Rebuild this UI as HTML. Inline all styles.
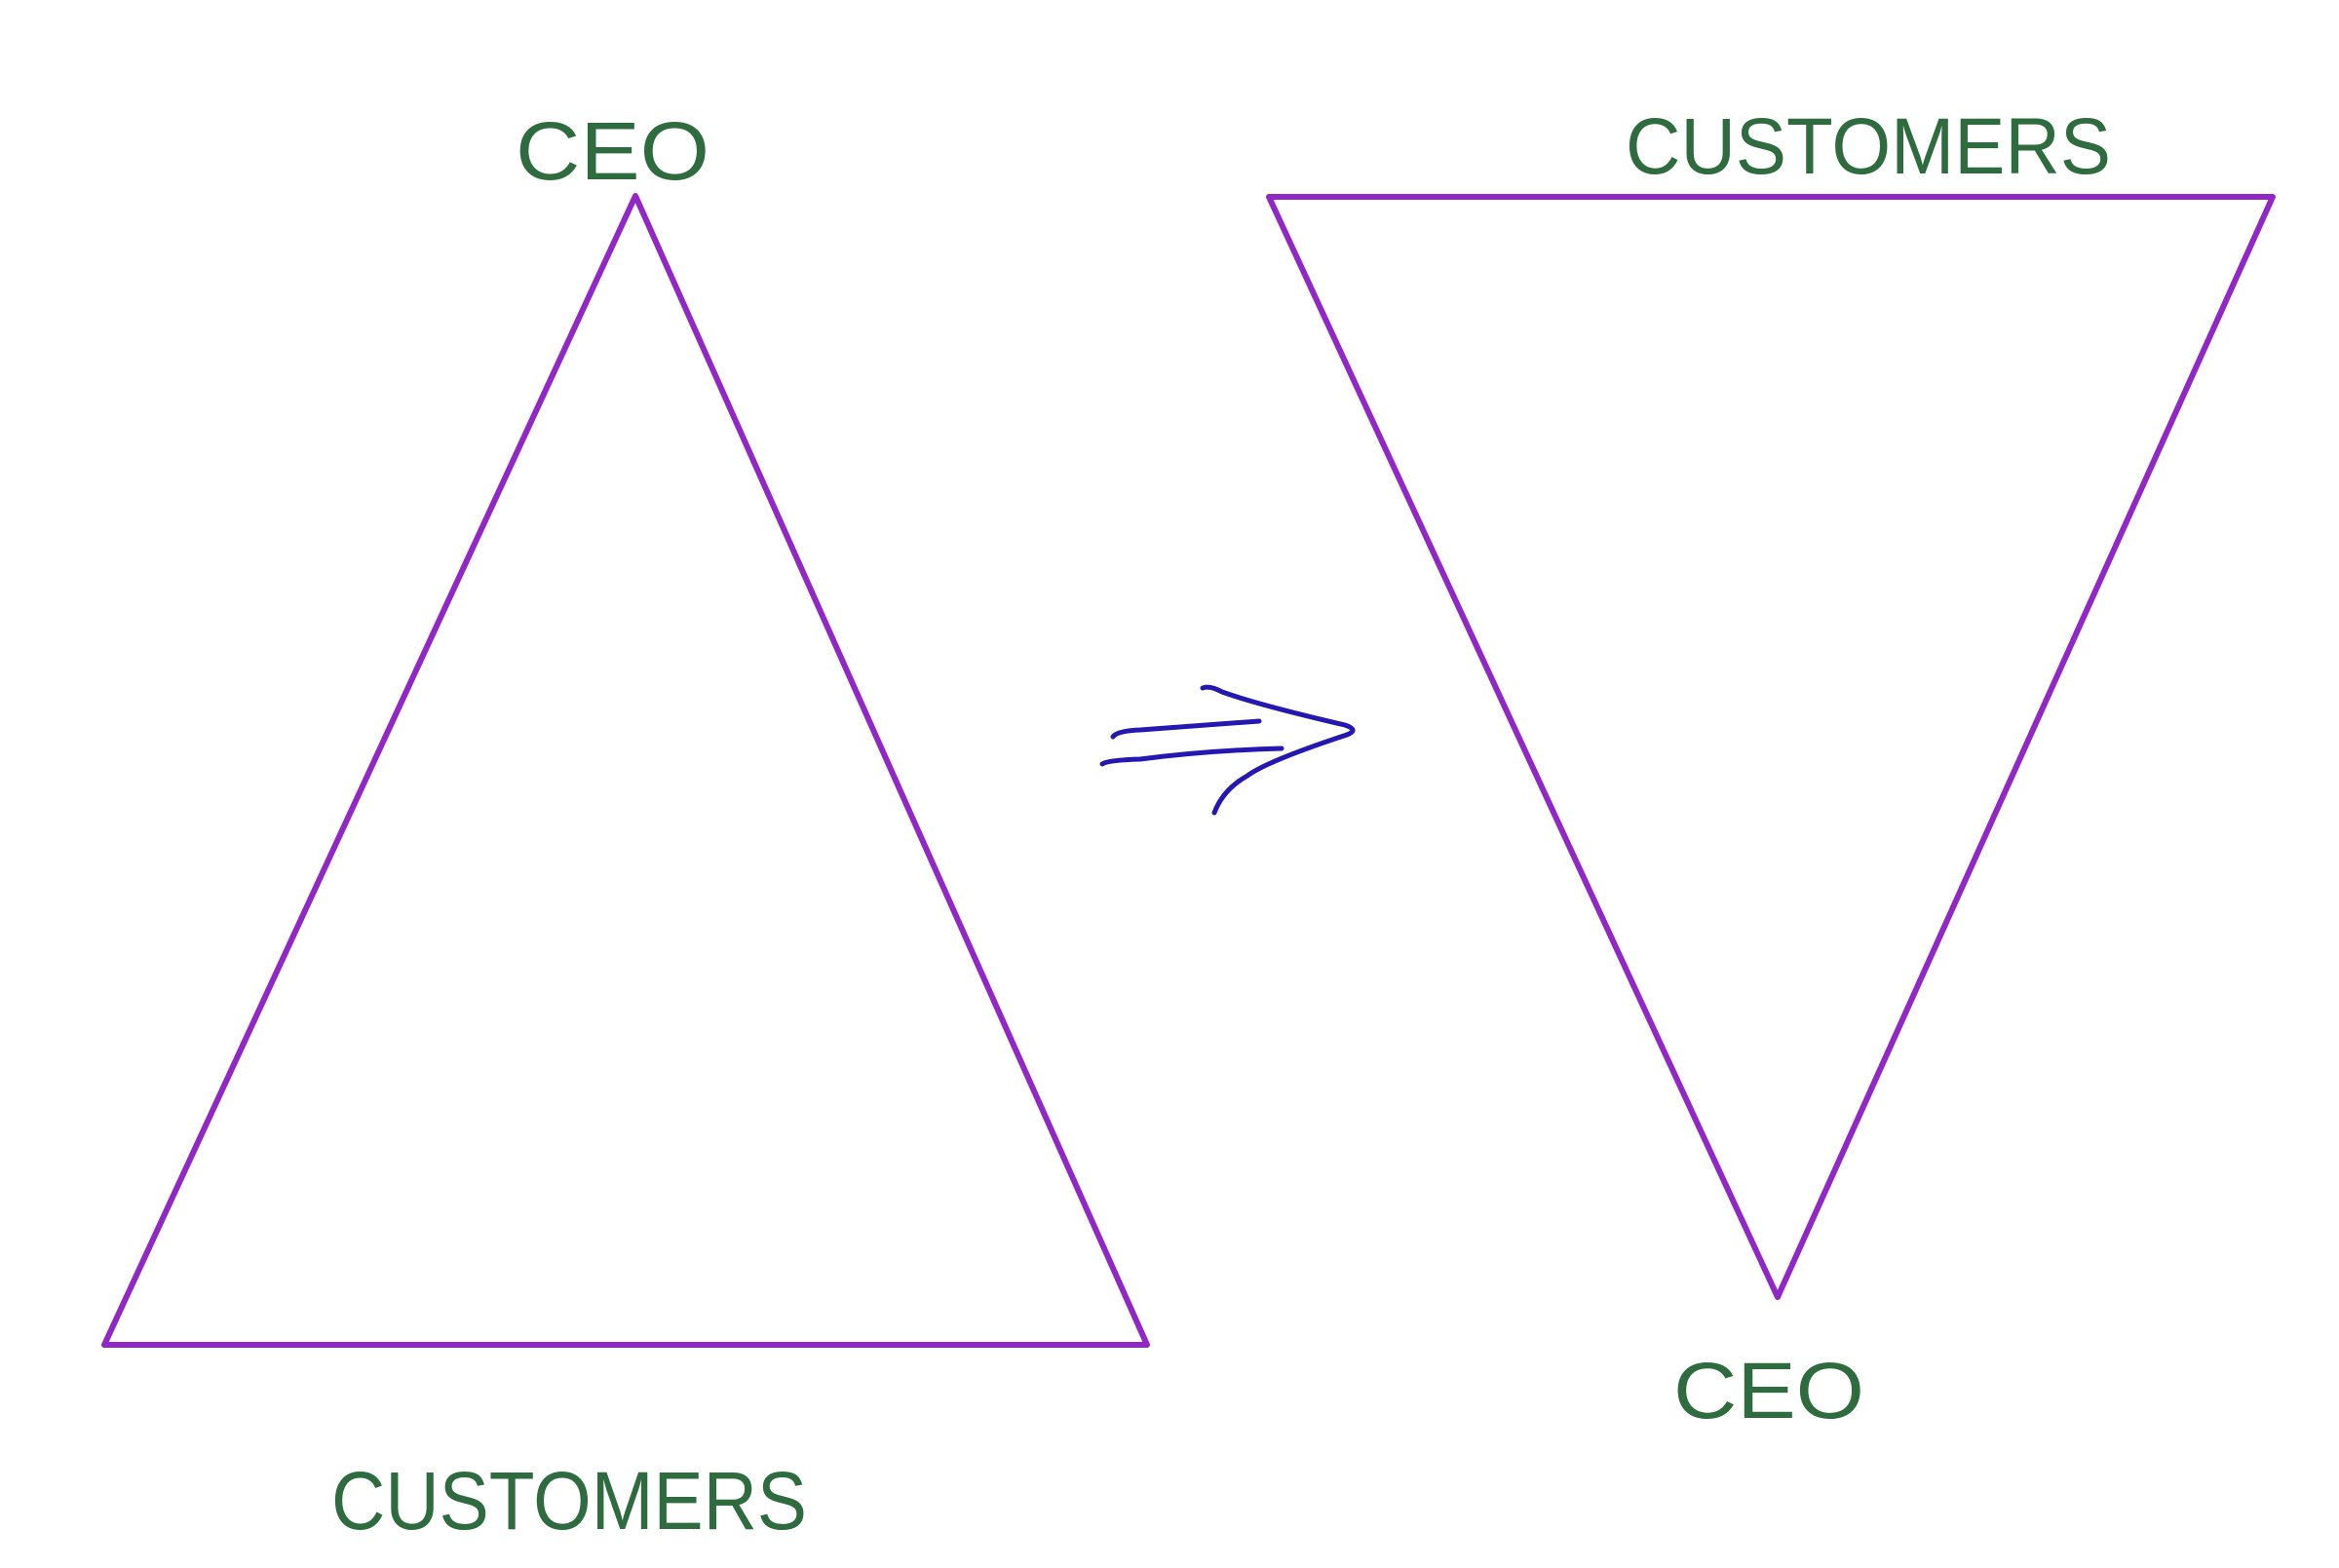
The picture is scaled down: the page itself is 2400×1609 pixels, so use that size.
<!DOCTYPE html>
<html><head><meta charset="utf-8"><style>
html,body{margin:0;padding:0;background:#fff;}
svg{display:block;}
text{font-family:"Liberation Sans",sans-serif;fill:#2e6b3e;}
</style></head><body>
<svg width="2400" height="1609" viewBox="0 0 2400 1609" xmlns="http://www.w3.org/2000/svg">
<rect width="2400" height="1609" fill="#fff"/>
<g fill="none" stroke="#9128c6" stroke-width="6" stroke-linejoin="round" stroke-linecap="round">
<polygon points="652,201 107,1380 1177,1380"/>
<polygon points="1302,202 2332,202 1824,1331"/>
</g>
<g fill="none" stroke="#2418b0" stroke-width="5" stroke-linecap="round" stroke-linejoin="round">
<path d="M1142,756 Q1146,750 1170,749 L1292,740"/>
<path d="M1131,784 Q1136,780 1170,779 Q1240,770 1315,768"/>
<path d="M1234,706 Q1241,703 1254,710 Q1290,723 1380,744 Q1395,749 1382,754 Q1300,781 1280,796 Q1255,810 1246,834"/>
</g>
<text x="529" y="184" font-size="84" textLength="199" lengthAdjust="spacingAndGlyphs">CEO</text>
<text x="340" y="1569" font-size="84" textLength="488" lengthAdjust="spacingAndGlyphs">CUSTOMERS</text>
<text x="1668" y="178" font-size="82" textLength="498" lengthAdjust="spacingAndGlyphs">CUSTOMERS</text>
<text x="1717" y="1455" font-size="82" textLength="196" lengthAdjust="spacingAndGlyphs">CEO</text>
</svg>
</body></html>
